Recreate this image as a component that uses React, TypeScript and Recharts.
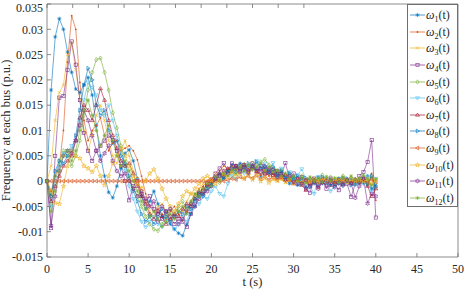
import React from 'react';
import { LineChart, Line, XAxis, YAxis, Legend } from 'recharts';

const time = [
  0, 0.5, 1, 1.5, 2, 2.5, 3, 3.5, 4, 4.5,
  5, 5.5, 6, 6.5, 7, 7.5, 8, 8.5, 9, 9.5,
  10, 10.5, 11, 11.5, 12, 12.5, 13, 13.5, 14, 14.5,
  15, 15.5, 16, 16.5, 17, 17.5, 18, 18.5, 19, 19.5,
  20, 20.5, 21, 21.5, 22, 22.5, 23, 23.5, 24, 24.5,
  25, 25.5, 26, 26.5, 27, 27.5, 28, 28.5, 29, 29.5,
  30, 30.5, 31, 31.5, 32, 32.5, 33, 33.5, 34, 34.5,
  35, 35.5, 36, 36.5, 37, 37.5, 38, 38.5, 39, 39.5,
  40,
];

const w1 = [
  0, 0.018, 0.0285, 0.0321, 0.03, 0.0255, 0.0215, 0.0182, 0.0175, 0.019,
  0.0205, 0.017, 0.011, 0.005, 0.001, -0.0022, -0.0033, -0.001, 0.0025, 0.0055,
  0.0062, 0.004, 0.0005, -0.003, -0.0055, -0.004, -0.002, -0.0045, -0.007, -0.006,
  -0.0085, -0.0095, -0.0103, -0.0108, -0.0085, -0.0065, -0.005, -0.003, -0.0025, -0.001,
  -0.0005, 0.0008, 0.0015, 0.0005, 0.002, 0.0032, 0.0025, 0.0035, 0.0028, 0.0015,
  0.003, 0.0022, 0.001, 0.0025, 0.0015, 0.002, 0.0008, 0.0018, 0.0005, -0.0005,
  0.0008, -0.0008, 0.0005, -0.0012, 0.0003, -0.0005, 0.0008, -0.0003, 0.0005, -0.0008,
  0.0002, -0.0005, 0.0006, -0.0002, 0.0004, -0.0006, 0.0003, -0.0004, 0.001, -0.0015,
  -0.0008,
];
const w2 = [
  0, -0.002, 0.001, 0.003, 0.01, 0.0235, 0.0327, 0.03, 0.0195, 0.012,
  0.008, 0.01, 0.011, 0.0125, 0.009, 0.006, 0.0075, 0.008, 0.006, 0.0065,
  0.007, 0.006, 0.0042, 0.001, -0.0025, -0.005, -0.006, -0.0055, -0.0065, -0.0075,
  -0.006, -0.005, -0.0065, -0.0078, -0.006, -0.004, -0.0025, -0.0015, -0.001, 0,
  0.0005, 0.001, 0.002, 0.003, 0.0025, 0.003, 0.0022, 0.0028, 0.002, 0.0015,
  0.0025, 0.0018, 0.0012, 0.002, 0.001, 0.0015, 0.0005, 0.001, 0.0002, 0.0006,
  -0.0003, 0.0004, -0.0005, 0.0002, -0.0008, 0.0001, -0.0004, 0.0005, -0.0002, 0.0003,
  -0.0005, 0.0002, -0.0003, 0.0004, -0.0002, 0.0003, -0.0005, 0.0002, -0.001, 0.0015,
  -0.0038,
];
const w3 = [
  0, 0.003, 0.012, 0.0175, 0.019, 0.025, 0.0273, 0.022, 0.016, 0.01,
  0.006, 0.009, 0.013, 0.015, 0.012, 0.008, 0.005, 0.0035, 0.006, 0.008,
  0.005, 0.002, 0.0005, -0.002, -0.004, -0.006, -0.007, -0.005, -0.0045, -0.006,
  -0.0075, -0.0065, -0.005, -0.006, -0.004, -0.0025, -0.003, -0.0015, -0.0005, -0.001,
  0.0005, 0.0015, 0.001, 0.0022, 0.0015, 0.0028, 0.002, 0.0032, 0.0025, 0.0018,
  0.0028, 0.002, 0.0015, 0.0023, 0.0012, 0.0016, 0.0006, 0.0012, 0.0003, 0.0008,
  0, 0.0005, -0.0003, 0.0003, -0.0002, 0.0004, 0, 0.0003, -0.0003, 0.0002,
  0.0001, 0.0004, 0, 0.0003, -0.0002, 0.0003, 0.0001, 0.0005, -0.0005, 0.001,
  -0.0015,
];
const w4 = [
  0, -0.0093, 0.005, 0.0165, 0.0168, 0.022, 0.0276, 0.023, 0.016, 0.0095,
  0.006, 0.004, 0.006, 0.007, 0.008, 0.009, 0.0081, 0.006, 0.003, 0,
  -0.0038, -0.001, 0, -0.0025, -0.004, -0.003, -0.0055, -0.008, -0.0075, -0.006,
  -0.007, -0.0085, -0.0075, -0.008, -0.0091, -0.0065, -0.004, -0.0025, -0.002, -0.0005,
  0.0003, 0.0015, 0.0025, 0.0036, 0.002, 0.0035, 0.003, 0.0018, 0.0032, 0.0025,
  0.0035, 0.002, 0.003, 0.0015, 0.0025, 0.0012, 0.002, 0.001, 0.0036, 0.0005,
  0.0015, -0.0005, 0.0008, -0.0015, -0.0023, 0.0005, -0.0008, 0.0003, -0.0015, 0.0005,
  -0.0005, -0.0018, 0.0003, -0.0005, -0.0031, -0.0005, 0.001, 0.0018, 0.0038, 0.0081,
  -0.0072,
];
const w5 = [
  0, -0.003, 0.001, 0.004, 0.006, 0.005, 0.003, 0.005, 0.008, 0.013,
  0.018, 0.0215, 0.024, 0.0243, 0.0215, 0.018, 0.0135, 0.0105, 0.007, 0.003,
  0.0005, -0.0015, -0.003, -0.005, -0.007, -0.0085, -0.0095, -0.0098, -0.0085, -0.007,
  -0.0055, -0.0065, -0.005, -0.004, -0.0055, -0.0045, -0.003, -0.002, -0.0025, -0.0015,
  -0.0005, 0.0005, -0.0003, 0.0012, 0.002, 0.0015, 0.0028, 0.0022, 0.0033, 0.0028,
  0.0035, 0.003, 0.0038, 0.0043, 0.0032, 0.0025, 0.0018, 0.0022, 0.0012, 0.0015,
  0.0008, 0.0003, 0.001, -0.0002, 0.0006, 0, 0.0004, 0.0012, 0.0002, 0.0008,
  -0.0002, 0.0005, 0.001, 0.0003, 0.0006, -0.0004, 0.0002, 0.0008, -0.0005, 0.0006,
  -0.0003,
];
const w6 = [
  0, -0.005, 0, 0.003, 0.0055, 0.006, 0.007, 0.008, 0.012, 0.016,
  0.0195, 0.0185, 0.017, 0.014, 0.013, 0.015, 0.012, 0.009, 0.006, 0.002,
  -0.001, -0.0035, -0.006, -0.008, -0.0091, -0.008, -0.007, -0.0085, -0.009, -0.0075,
  -0.008, -0.0095, -0.0085, -0.007, -0.008, -0.0055, -0.004, -0.0045, -0.003, -0.0035,
  -0.002, -0.001, -0.0025, -0.003, -0.0005, 0.001, 0.0005, 0.002, 0.0015, 0.003,
  0.0025, 0.004, 0.0028, 0.0035, 0.002, 0.0036, 0.001, 0.0025, 0.0005, 0.0018,
  0.0002, 0.0012, 0.0024, 0.0003, -0.001, -0.0025, 0.0008, -0.0005, 0.0003, -0.002,
  -0.0008, 0.0005, -0.001, -0.0003, 0.0002, -0.0008, 0, -0.0005, 0.0008, -0.002,
  0.0005,
];
const w7 = [
  0, -0.004, -0.001, 0.001, 0.003, 0.004, 0.005, 0.008, 0.0125, 0.015,
  0.014, 0.012, 0.015, 0.0183, 0.016, 0.012, 0.009, 0.0065, 0.004, 0.003,
  0.0035, 0.0015, -0.001, -0.003, -0.0045, -0.0065, -0.0075, -0.006, -0.007, -0.0085,
  -0.0075, -0.0065, -0.007, -0.0055, -0.0045, -0.005, -0.0035, -0.0022, -0.0015, -0.0008,
  0, 0.0005, 0.0015, 0.001, 0.0025, 0.002, 0.003, 0.0025, 0.0032, 0.0022,
  0.0028, 0.0018, 0.0025, 0.0015, 0.0022, 0.0012, 0.0015, 0.0008, 0.0012, 0.0002,
  -0.0005, 0.0005, -0.0008, -0.0018, -0.0005, 0.0002, -0.0012, -0.0003, 0.0002, -0.0008,
  -0.0003, 0.0003, -0.0006, 0.0001, -0.0004, 0.0004, -0.0002, 0.0006, -0.001, -0.003,
  -0.0015,
];
const w8 = [
  0, -0.003, 0.002, 0.004, 0.0035, 0.005, 0.006, 0.009, 0.014, 0.019,
  0.0223, 0.02, 0.015, 0.013, 0.014, 0.01, 0.0075, 0.008, 0.005, 0.0035,
  0.001, -0.002, -0.004, -0.0065, -0.008, -0.007, -0.0085, -0.007, -0.0055, -0.007,
  -0.008, -0.007, -0.006, -0.0065, -0.005, -0.0055, -0.0035, -0.0025, -0.003, -0.0015,
  -0.001, 0.0002, 0.001, 0.0005, 0.0018, 0.0025, 0.0018, 0.003, 0.0022, 0.0035,
  0.0025, 0.0038, 0.0025, 0.003, 0.0018, 0.0028, 0.0012, 0.002, 0.0006, 0.0015,
  0.0002, 0.001, -0.0005, 0.0006, -0.0012, 0.0003, -0.0006, 0.0008, -0.0004, 0.0002,
  -0.001, 0.0003, -0.0005, 0.0005, -0.0008, 0.0002, -0.0003, 0.0004, -0.0006, 0.001,
  -0.0012,
];
const w9 = [
  0, 0, 0, 0, 0, 0, 0, 0, 0, 0,
  0, 0, 0, 0, 0, 0, 0, 0, 0, 0,
  0, 0, 0, 0, 0, 0, 0, 0, 0, 0,
  0, 0, 0, 0, 0, 0, 0, 0, 0, 0,
  0, 0, 0, 0, 0.0002, 0.0005, 0.0003, 0.0008, 0.0005, 0.001,
  0.0006, 0.0012, 0.0004, 0.0009, 0.0003, 0.0007, 0.0002, 0.0005, 0, 0.0003,
  -0.0002, 0.0002, -0.0003, 0, -0.0002, 0.0001, -0.0001, 0.0002, 0, 0.0001,
  -0.0001, 0.0002, 0, 0.0001, -0.0001, 0.0001, 0, 0.0002, -0.0002, 0.0003,
  -0.0001,
];
const w10 = [
  0, -0.002, -0.0043, -0.0045, -0.001, 0.003, 0.006, 0.005, 0.0045, 0.003,
  0.0025, 0.0018, 0.003, 0.001, -0.0008, 0.001, 0.0035, 0.005, 0.0065, 0.005,
  0.003, 0.001, -0.0005, -0.0015, 0.0002, 0.0015, 0.0023, 0.0005, -0.0015, -0.0035,
  -0.005, -0.006, -0.0045, -0.003, -0.002, -0.0025, -0.0015, -0.0005, 0.0005, 0.001,
  0.0002, -0.0005, 0.0005, 0.0015, 0.0008, 0.0018, 0.001, 0.0015, 0.0005, 0.0012,
  0.0003, 0.001, 0, 0.0006, -0.0003, 0.0004, 0.0001, 0.0005, -0.0002, 0.0003,
  -0.0004, 0.0002, -0.0003, 0.0003, 0, 0.0004, -0.0002, 0.0002, 0.0003, -0.0001,
  0.0004, 0, 0.0003, -0.0002, 0.0004, 0.0001, 0.0003, 0, 0.0005, -0.0005,
  0.0003,
];
const w11 = [
  0, -0.0088, -0.003, 0.002, 0.005, 0.006, 0.0055, 0.008, 0.011, 0.014,
  0.012, 0.009, 0.006, 0.004, 0.0055, 0.007, 0.004, 0.002, 0.001, 0.0015,
  0, -0.0015, -0.003, -0.002, -0.0035, -0.005, -0.004, -0.0065, -0.005, -0.006,
  -0.0055, -0.007, -0.0085, -0.0075, -0.006, -0.0045, -0.005, -0.0035, -0.0025, -0.002,
  -0.001, 0.0005, 0.001, 0.002, 0.0015, 0.0025, 0.003, 0.002, 0.0028, 0.0018,
  0.003, 0.0025, 0.0018, 0.0028, 0.0015, 0.0022, 0.0008, 0.0015, 0.0003, 0.001,
  -0.0002, 0.0005, -0.0005, 0.0002, -0.001, -0.0002, -0.0015, -0.0003, -0.0008, 0,
  -0.0012, -0.0004, -0.0008, 0.0002, -0.0005, -0.0033, -0.001, 0.0005, -0.0044, -0.0025,
  -0.003,
];
const w12 = [
  0, -0.006, -0.002, 0.002, 0.005, 0.006, 0.004, 0.006, 0.01, 0.014,
  0.016, 0.013, 0.01, 0.007, 0.009, 0.011, 0.008, 0.005, 0.003, 0.004,
  0.002, 0, -0.002, -0.004, -0.0055, -0.007, -0.006, -0.0075, -0.009, -0.008,
  -0.0065, -0.0075, -0.006, -0.005, -0.0065, -0.004, -0.0025, -0.003, -0.0015, -0.0005,
  -0.001, 0.0008, 0.0002, 0.0015, 0.001, 0.0022, 0.0015, 0.0028, 0.002, 0.0032,
  0.0022, 0.0028, 0.0035, 0.002, 0.0028, 0.0018, 0.0022, 0.001, 0.0016, 0.0005,
  0.001, 0, 0.0006, -0.0004, 0.0008, 0, 0.0005, -0.0002, 0.0009, 0.0001,
  0.0006, -0.0003, 0.0008, 0.0002, 0.001, 0.0003, 0.0006, 0.0012, 0.0003, -0.0008,
  0.0004,
];

const seriesValues = [w1, w2, w3, w4, w5, w6, w7, w8, w9, w10, w11, w12];
const seriesKeys = ['w1', 'w2', 'w3', 'w4', 'w5', 'w6', 'w7', 'w8', 'w9', 'w10', 'w11', 'w12'];
const seriesSubs = ['1', '2', '3', '4', '5', '6', '7', '8', '9', '10', '11', '12'];
const seriesColors = [
  '#0072BD', '#D95319', '#EDB120', '#7E2F8E', '#77AC30', '#4DBEEE',
  '#A2142F', '#0072BD', '#D95319', '#EDB120', '#7E2F8E', '#77AC30',
];
const seriesMarkers = ['*', '.', 'x', 's', 'd', 'v', '^', '>', '<', 'p', 'h', '*'];

const xTicks = [0, 5, 10, 15, 20, 25, 30, 35, 40, 45, 50];
const yTicks = [-0.015, -0.01, -0.005, 0, 0.005, 0.01, 0.015, 0.02, 0.025, 0.03, 0.035];

const data = time.map((t, i) => {
  const row: Record<string, number> = { t };
  seriesKeys.forEach((k, j) => {
    row[k] = seriesValues[j][i];
  });
  return row;
});

const FONT = 'Liberation Serif, Times New Roman, serif';
const AX = '#6e6e6e';
const TXT = '#262626';

const css = `
.recharts-wrapper text, .recharts-wrapper tspan { font-family: 'Liberation Serif', 'Times New Roman', serif !important; }
`;

function starPath(cx: number, cy: number, n: number, ro: number, ri: number) {
  let d = '';
  for (let k = 0; k < n * 2; k++) {
    const r = k % 2 === 0 ? ro : ri;
    const a = -Math.PI / 2 + (k * Math.PI) / n;
    d += (k === 0 ? 'M' : 'L') + (cx + r * Math.cos(a)).toFixed(2) + ',' + (cy + r * Math.sin(a)).toFixed(2);
  }
  return d + 'Z';
}

function Marker({ cx, cy, type, color }: { cx?: number; cy?: number; type: string; color: string }) {
  if (cx == null || cy == null || isNaN(cx) || isNaN(cy)) return null;
  const s = 2;
  const sw = 0.6;
  const common = { stroke: color, strokeWidth: sw, fill: 'none' };
  switch (type) {
    case '*': {
      const q = s * 0.72;
      return (
        <path
          d={`M${cx - s},${cy}H${cx + s}M${cx},${cy - s}V${cy + s}M${cx - q},${cy - q}L${cx + q},${cy + q}M${cx - q},${cy + q}L${cx + q},${cy - q}`}
          {...common}
        />
      );
    }
    case '.':
      return <circle cx={cx} cy={cy} r={0.9} fill={color} />;
    case 'x': {
      const q = s * 0.8;
      return <path d={`M${cx - q},${cy - q}L${cx + q},${cy + q}M${cx - q},${cy + q}L${cx + q},${cy - q}`} {...common} />;
    }
    case 's':
      return <rect x={cx - s * 0.8} y={cy - s * 0.8} width={s * 1.6} height={s * 1.6} {...common} />;
    case 'd':
      return <path d={`M${cx},${cy - s * 1.1}L${cx + s * 0.8},${cy}L${cx},${cy + s * 1.1}L${cx - s * 0.8},${cy}Z`} {...common} />;
    case 'v':
      return <path d={`M${cx - s},${cy - s * 0.6}L${cx + s},${cy - s * 0.6}L${cx},${cy + s}Z`} {...common} />;
    case '^':
      return <path d={`M${cx - s},${cy + s * 0.6}L${cx + s},${cy + s * 0.6}L${cx},${cy - s}Z`} {...common} />;
    case '>':
      return <path d={`M${cx - s * 0.6},${cy - s}L${cx - s * 0.6},${cy + s}L${cx + s},${cy}Z`} {...common} />;
    case '<':
      return <path d={`M${cx + s * 0.6},${cy - s}L${cx + s * 0.6},${cy + s}L${cx - s},${cy}Z`} {...common} />;
    case 'p':
      return <path d={starPath(cx, cy, 5, s * 1.2, s * 0.5)} {...common} />;
    case 'h':
      return <path d={starPath(cx, cy, 6, s * 1.1, s * 0.6)} {...common} />;
    default:
      return <circle cx={cx} cy={cy} r={s} {...common} />;
  }
}

function LegendBox() {
  return (
    <div
      style={{
        width: 51,
        height: 203,
        boxSizing: 'border-box',
        border: `1px solid ${AX}`,
        background: '#fff',
        paddingTop: 2,
        fontFamily: FONT,
        fontSize: 12,
        color: TXT,
      }}
    >
      {seriesKeys.map((k, i) => (
        <div key={k} style={{ height: 16.6, display: 'flex', alignItems: 'center', lineHeight: 1 }}>
          <svg width={15} height={10} style={{ marginLeft: 2, flex: 'none' }}>
            <line x1={0} x2={15} y1={5} y2={5} stroke={seriesColors[i]} strokeWidth={0.7} />
            <Marker cx={7.5} cy={5} type={seriesMarkers[i]} color={seriesColors[i]} />
          </svg>
          <span style={{ marginLeft: 1, whiteSpace: 'nowrap' }}>
            <span style={{ fontStyle: 'italic' }}>ω</span>
            <span style={{ fontSize: 8, position: 'relative', top: 3 }}>{seriesSubs[i]}</span>
            (t)
          </span>
        </div>
      ))}
    </div>
  );
}

export default function App() {
  return (
    <div style={{ position: 'absolute', left: 0, top: 0, width: 464, height: 289, background: '#fff', fontFamily: FONT }}>
      <style>{css}</style>
      <LineChart width={464} height={289} data={data} margin={{ top: 0, right: 0, bottom: 0, left: 0 }}>
        <XAxis
          xAxisId="b"
          dataKey="t"
          type="number"
          domain={[0, 50]}
          ticks={xTicks}
          height={32}
          tickSize={-4}
          tickMargin={11}
          axisLine={{ stroke: AX, strokeWidth: 0.8 }}
          tickLine={{ stroke: AX, strokeWidth: 0.8 }}
          tick={{ fill: TXT, fontSize: 12, fontFamily: FONT }}
          label={{ value: 't (s)', position: 'insideBottom', offset: 3, fill: TXT, fontSize: 12.5, fontFamily: FONT }}
        />
        <XAxis
          xAxisId="top"
          orientation="top"
          type="number"
          domain={[0, 50]}
          ticks={xTicks}
          height={4}
          tickSize={-4}
          tickFormatter={() => ''}
          axisLine={{ stroke: AX, strokeWidth: 0.8 }}
          tickLine={{ stroke: AX, strokeWidth: 0.8 }}
        />
        <YAxis
          yAxisId="l"
          type="number"
          domain={[-0.015, 0.035]}
          ticks={yTicks}
          width={47}
          tickSize={-4}
          tickMargin={8}
          tickFormatter={(v: number) => String(v)}
          axisLine={{ stroke: AX, strokeWidth: 0.8 }}
          tickLine={{ stroke: AX, strokeWidth: 0.8 }}
          tick={{ fill: TXT, fontSize: 12, fontFamily: FONT }}
          label={{
            value: 'Frequency at each bus (p.u.)',
            angle: -90,
            position: 'insideLeft',
            offset: 6,
            fill: TXT,
            fontSize: 12.5,
            fontFamily: FONT,
            style: { textAnchor: 'middle' },
          }}
        />
        <YAxis
          yAxisId="r"
          orientation="right"
          type="number"
          domain={[-0.015, 0.035]}
          ticks={yTicks}
          width={6}
          tickSize={-4}
          tickFormatter={() => ''}
          axisLine={{ stroke: AX, strokeWidth: 0.8 }}
          tickLine={{ stroke: AX, strokeWidth: 0.8 }}
        />
        {seriesKeys.map((k, i) => (
          <Line
            key={k}
            xAxisId="b"
            yAxisId="l"
            type="linear"
            dataKey={k}
            name={k}
            stroke={seriesColors[i]}
            strokeWidth={0.6}
            isAnimationActive={false}
            activeDot={false}
            dot={(p: any) => (
              <Marker key={`${k}-${p.index}`} cx={p.cx} cy={p.cy} type={seriesMarkers[i]} color={seriesColors[i]} />
            )}
          />
        ))}
        <Legend
          layout="vertical"
          align="center"
          verticalAlign="middle"
          wrapperStyle={{ left: 407, top: 4, width: 51, height: 203 }}
          content={() => <LegendBox />}
        />
      </LineChart>
    </div>
  );
}
